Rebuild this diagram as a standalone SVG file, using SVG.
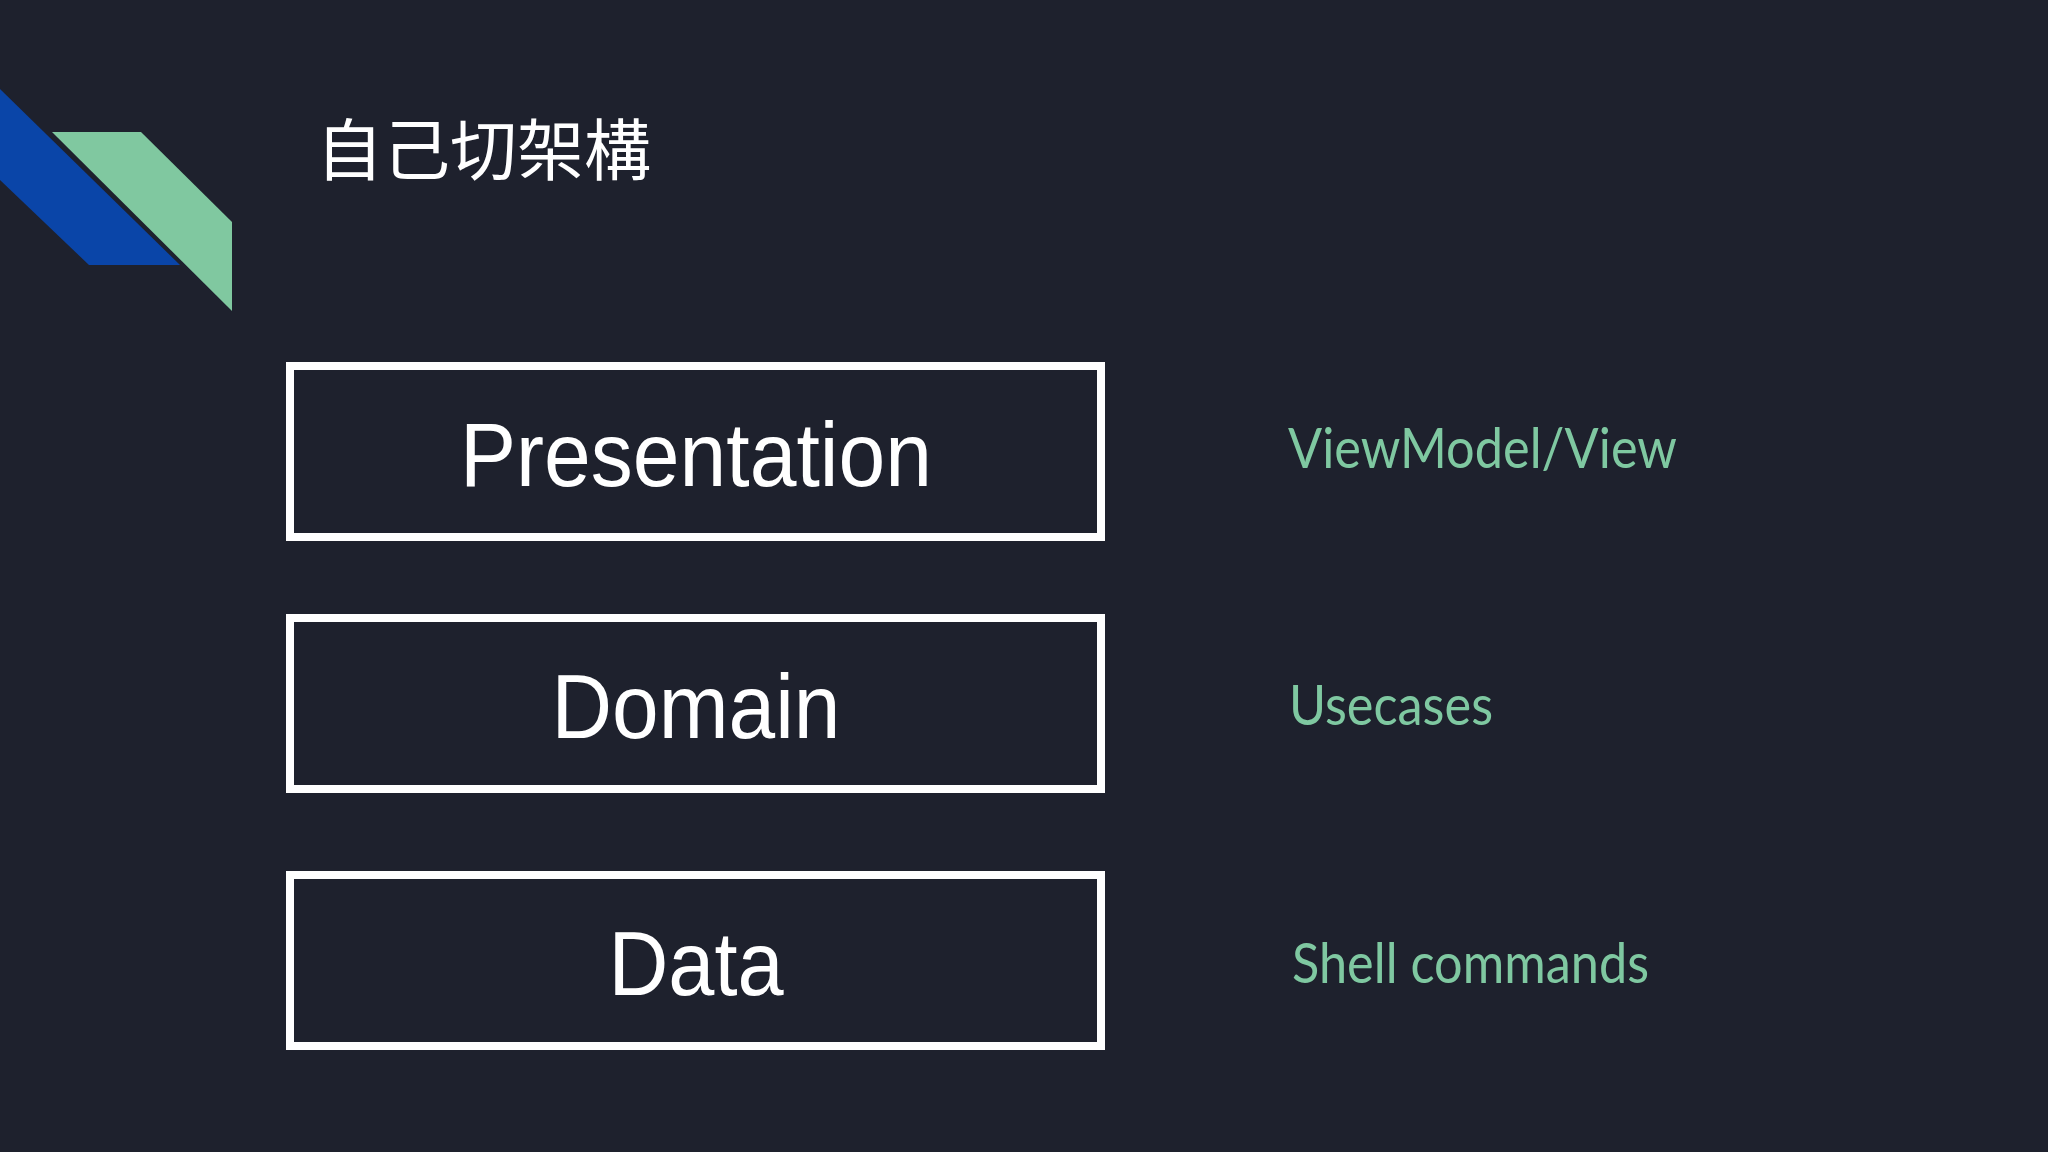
<svg xmlns="http://www.w3.org/2000/svg" width="2048" height="1152" viewBox="0 0 2048 1152">
<style>
.box{fill:none;stroke:#ffffff;stroke-width:8}
.lbl{font-family:"Liberation Sans",Arial,sans-serif;font-size:90px;fill:#ffffff;text-anchor:middle}
.side{font-family:Lato,"Open Sans",sans-serif;font-size:56px;fill:#7fc8a1}
</style>
<rect x="0" y="0" width="2048" height="1152" fill="#1e212d"/>
<g id="decor">
<polygon points="0,89 180,265 89,265 0,180" fill="#0a45a8"/>
<polygon points="52,132 141,132 232,222 232,311" fill="#80c8a0"/>
</g>
<text x="316" y="175" font-family="'Noto Sans CJK TC','Noto Sans CJK SC',sans-serif" font-size="67" fill="#ffffff">自己切架構</text>
<g id="presentation">
<rect class="box" x="290" y="366" width="811" height="171"/>
<text class="lbl" x="696" y="486" textLength="472" lengthAdjust="spacingAndGlyphs">Presentation</text>
</g>
<g id="domain">
<rect class="box" x="290" y="618" width="811" height="171"/>
<text class="lbl" x="696" y="738" textLength="289" lengthAdjust="spacingAndGlyphs">Domain</text>
</g>
<g id="data">
<rect class="box" x="290" y="875" width="811" height="171"/>
<text class="lbl" x="696" y="995" textLength="175" lengthAdjust="spacingAndGlyphs">Data</text>
</g>
<g id="labels">
<text class="side" x="1288" y="468" textLength="389" lengthAdjust="spacingAndGlyphs">ViewModel/View</text>
<text class="side" x="1289" y="725" textLength="204" lengthAdjust="spacingAndGlyphs">Usecases</text>
<text class="side" x="1292" y="983" textLength="357" lengthAdjust="spacingAndGlyphs">Shell commands</text>
</g>
<g id="connectors"/>
</svg>
